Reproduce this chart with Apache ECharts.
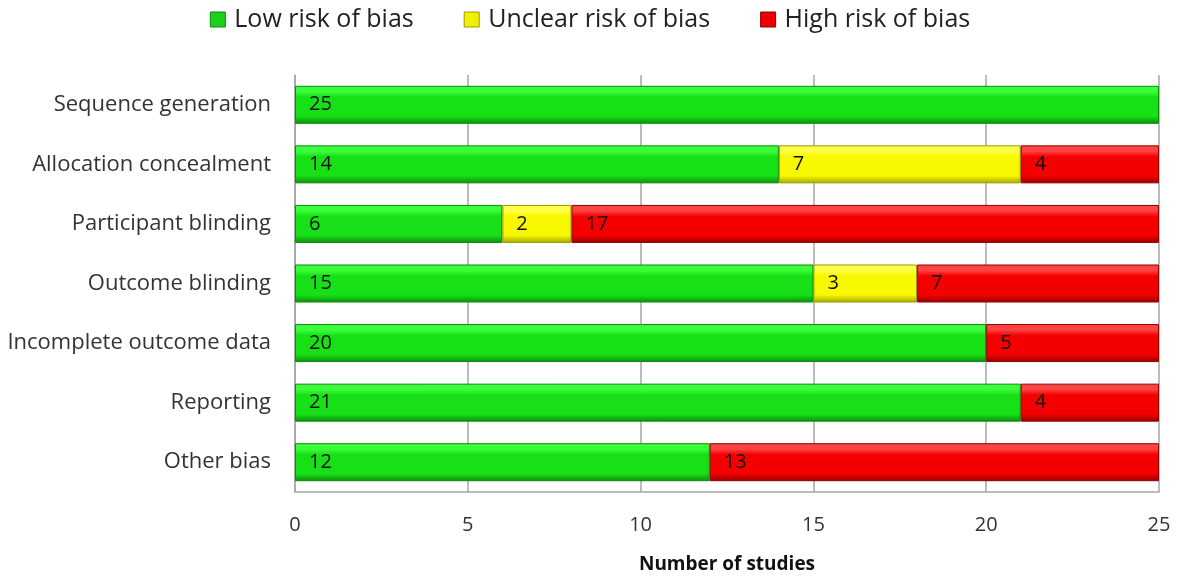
<!DOCTYPE html>
<html>
<head>
<meta charset="utf-8">
<script src="https://cdn.jsdelivr.net/npm/echarts@6/dist/echarts.min.js"></script>
<style>
  html, body { margin: 0; padding: 0; background: #fff; }
  #chart { width: 1180px; height: 580px; }
</style>
</head>
<body>
<div id="chart"></div>
<script>
// Risk-of-bias domains, top to bottom
const categories = [
  'Sequence generation',
  'Allocation concealment',
  'Participant blinding',
  'Outcome blinding',
  'Incomplete outcome data',
  'Reporting',
  'Other bias'
];
// Number of studies per judgement (same order as categories)
const lowRisk     = [25, 14, 6, 15, 20, 21, 12];
const unclearRisk = [0, 7, 2, 3, 0, 0, 0];
const highRisk    = [0, 4, 17, 7, 5, 4, 13];
const xTicks = [0, 5, 10, 15, 20, 25];

const FONT = '"Open Sans", "Noto Sans", sans-serif';

function bevel(light, mid, dark) {
  return {
    type: 'linear', x: 0, y: 0, x2: 0, y2: 1,
    colorStops: [
      { offset: 0, color: light },
      { offset: 0.15, color: light },
      { offset: 0.3, color: mid },
      { offset: 0.8, color: mid },
      { offset: 1, color: dark }
    ]
  };
}

const styles = {
  low:     { fill: bevel('#3cff3c', '#17e017', '#0d8c0d'), border: '#0b8a0b', icon: '#1bd11b' },
  unclear: { fill: bevel('#ffff4a', '#f8f800', '#a6a600'), border: '#9a9a00', icon: '#f0f000' },
  high:    { fill: bevel('#ff4444', '#f40000', '#980000'), border: '#8e0000', icon: '#ee0000' }
};

function series(name, values, st) {
  return {
    name: name,
    type: 'bar',
    stack: 'total',
    barWidth: 38,
    data: values.map(v => (v === 0 ? null : v)),
    itemStyle: { color: st.fill, borderColor: st.border, borderWidth: 1 },
    label: {
      show: true,
      position: 'insideLeft',
      distance: 14,
      color: '#111',
      fontFamily: FONT,
      fontSize: 20
    },
    emphasis: { disabled: true }
  };
}

const chart = echarts.init(document.getElementById('chart'), null, { renderer: 'canvas' });
chart.setOption({
  animation: false,
  textStyle: { fontFamily: FONT },
  legend: {
    top: 2,
    left: 'center',
    icon: 'rect',
    itemWidth: 15,
    itemHeight: 15,
    itemGap: 50,
    textStyle: { fontFamily: FONT, fontSize: 25, color: '#222', padding: [0, 0, 0, 4] },
    data: [
      { name: 'Low risk of bias', itemStyle: { color: styles.low.icon, borderColor: styles.low.border, borderWidth: 1 } },
      { name: 'Unclear risk of bias', itemStyle: { color: styles.unclear.icon, borderColor: styles.unclear.border, borderWidth: 1 } },
      { name: 'High risk of bias', itemStyle: { color: styles.high.icon, borderColor: styles.high.border, borderWidth: 1 } }
    ]
  },
  grid: { left: 295, right: 21, top: 75, bottom: 88, containLabel: false },
  xAxis: {
    type: 'value',
    min: xTicks[0],
    max: xTicks[xTicks.length - 1],
    interval: 5,
    name: 'Number of studies',
    nameLocation: 'middle',
    nameGap: 63,
    nameTextStyle: { fontFamily: FONT, fontSize: 19, fontWeight: 'bold', color: '#111' },
    axisLine: { show: true, lineStyle: { color: '#a6a6a6', width: 1.5 } },
    axisTick: { show: false },
    axisLabel: { margin: 23, fontFamily: FONT, fontSize: 20, color: '#333' },
    splitLine: { show: true, lineStyle: { color: '#a6a6a6', width: 1.5 } }
  },
  yAxis: {
    type: 'category',
    inverse: true,
    data: categories,
    axisLine: { show: true, lineStyle: { color: '#a6a6a6', width: 1.5 } },
    axisTick: { show: false },
    axisLabel: { margin: 24, fontFamily: FONT, fontSize: 22, color: '#333' }
  },
  series: [
    series('Low risk of bias', lowRisk, styles.low),
    series('Unclear risk of bias', unclearRisk, styles.unclear),
    series('High risk of bias', highRisk, styles.high)
  ]
});
</script>
</body>
</html>
